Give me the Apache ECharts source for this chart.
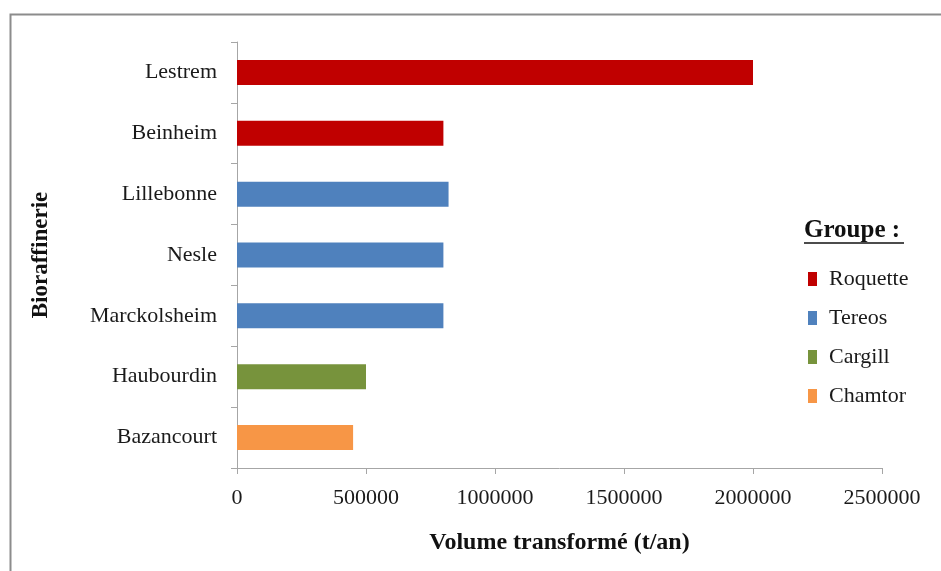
<!DOCTYPE html>
<html><head><meta charset="utf-8">
<script src="https://cdn.jsdelivr.net/npm/echarts@6/dist/echarts.min.js"></script>
<style>html,body{margin:0;padding:0;background:#fff}#c{width:941px;height:571px}</style>
</head><body><div id="c"></div>
<script>
const categories = ['Lestrem','Beinheim','Lillebonne','Nesle','Marckolsheim','Haubourdin','Bazancourt'];
const groups = ['Roquette','Tereos','Cargill','Chamtor'];
const groupOf = ['Roquette','Roquette','Tereos','Tereos','Tereos','Cargill','Chamtor'];
const volumes = [2000000, 800000, 820000, 800000, 800000, 500000, 450000];
const colors = ['#C00000','#4F81BD','#77933C','#F79646'];
const xTicks = [0, 500000, 1000000, 1500000, 2000000, 2500000];

const font = '"Liberation Serif","Times New Roman",serif';
const chart = echarts.init(document.getElementById('c'));
const series = groups.map((g, gi) => ({
  name: g, type: 'bar', stack: 'all', barWidth: 25,
  itemStyle: { color: colors[gi] },
  data: volumes.map((v, i) => groupOf[i] === g ? v : null)
}));
chart.setOption({
  animation: false,
  grid: { left: 237, right: 59, top: 42, bottom: 103 },
  legend: {
    orient: 'vertical', left: 803, top: 263, itemGap: 17,
    icon: 'rect', itemWidth: 9, itemHeight: 14,
    textStyle: { fontFamily: font, fontSize: 22, color: '#1a1a1a', padding: [0,0,0,7] },
    data: groups
  },
  xAxis: {
    type: 'value', min: xTicks[0], max: xTicks[xTicks.length - 1], interval: xTicks[1] - xTicks[0],
    name: 'Volume transformé (t/an)', nameLocation: 'middle', nameGap: 63,
    nameTextStyle: { fontFamily: font, fontSize: 24, fontWeight: 'bold', color: '#111' },
    axisLine: { show: true, lineStyle: { color: '#a6a6a6' } },
    axisTick: { show: true, length: 6, lineStyle: { color: '#a6a6a6' } },
    splitLine: { show: false },
    axisLabel: { fontFamily: font, fontSize: 22, color: '#1a1a1a', margin: 19, formatter: v => String(v) }
  },
  yAxis: {
    type: 'category', data: categories, inverse: true,
    name: 'Bioraffinerie', nameLocation: 'middle', nameGap: 184, nameRotate: 90,
    nameTextStyle: { fontFamily: font, fontSize: 23, fontWeight: 'bold', color: '#111' },
    axisLine: { show: true, lineStyle: { color: '#a6a6a6' } },
    axisTick: { show: true, length: 6, lineStyle: { color: '#a6a6a6' } },
    axisLabel: { fontFamily: font, fontSize: 22, color: '#1a1a1a', margin: 20 }
  },
  series: series,
  graphic: [
    { type: 'rect', shape: { x: 10.5, y: 14.5, width: 940, height: 570 },
      style: { fill: 'none', stroke: '#8c8c8c', lineWidth: 2 }, silent: true },
    { type: 'text', left: 804, top: 218,
      style: { text: 'Groupe :', font: 'bold 25px ' + font, fill: '#111' } },
    { type: 'line', shape: { x1: 804, y1: 243, x2: 904, y2: 243 },
      style: { stroke: '#111', lineWidth: 1.5 } }
  ]
});
</script></body></html>
